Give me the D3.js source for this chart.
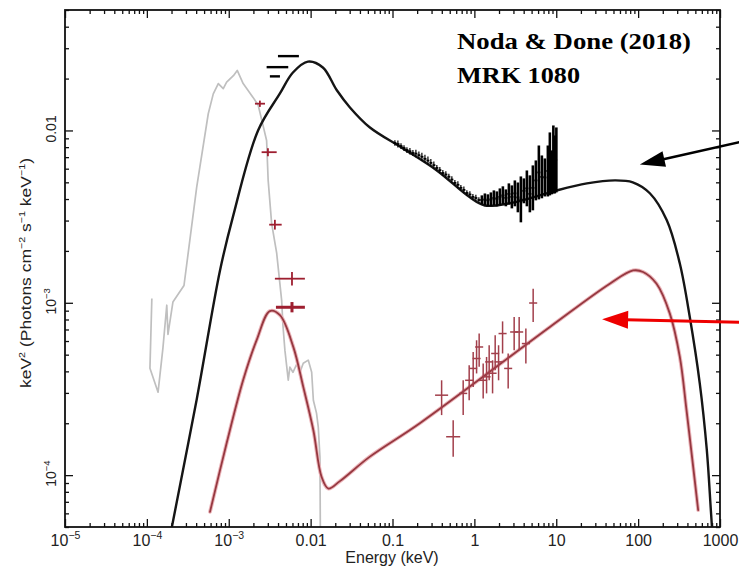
<!DOCTYPE html>
<html>
<head>
<meta charset="utf-8">
<script src="https://cdn.jsdelivr.net/npm/d3@7"></script>
<style>
  body { margin: 0; background: #fff; }
  svg { display: block; }
</style>
</head>
<body>
<svg id="chart" width="739" height="570"></svg>
<script>
// ---- axis ticks ----
const xTickValues = [1e-5, 1e-4, 1e-3, 0.01, 0.1, 1, 10, 100, 1000];
const xTickLabels = ["10^-5", "10^-4", "10^-3", "0.01", "0.1", "1", "10", "100", "1000"];
const yTickValues = [1e-4, 1e-3, 0.01];
const yTickLabels = ["10^-4", "10^-3", "0.01"];

// ---- total broadband model (keV, keV^2 photons cm^-2 s^-1 keV^-1) ----
const totalModelE = [1.82e-4, 2.02e-4, 4.06e-4, 7.82e-4, 1.12e-3, 2.28e-3, 4.22e-3, 6.08e-3, 9.27e-3,
  1.41e-2, 2.09e-2, 3.02e-2, 5.30e-2, 0.134, 0.348, 0.881, 1.34, 2.71, 4.76, 10.2, 23.7, 52.0, 86.1,
  139, 224, 323, 428, 566, 690, 773, 817];
const totalModelF = [3.8e-5, 5.0e-5, 2.75e-4, 1.54e-3, 3.13e-3, 1.0e-2, 1.64e-2, 2.17e-2, 2.51e-2,
  2.32e-2, 1.71e-2, 1.36e-2, 1.04e-2, 7.87e-3, 5.86e-3, 4.09e-3, 3.67e-3, 3.78e-3, 4.04e-3, 4.49e-3,
  4.93e-3, 5.13e-3, 5.0e-3, 4.32e-3, 3.01e-3, 1.69e-3, 8.24e-4, 3.41e-4, 1.40e-4, 6.27e-5, 4.20e-5];

// ---- second model (red) ----
const redModelE = [5.90e-4, 9.42e-4, 1.50e-3, 2.19e-3, 3.18e-3, 4.22e-3, 6.14e-3, 8.13e-3, 1.08e-2,
  1.36e-2, 1.649e-2, 2.28e-2, 5.30e-2, 0.216, 8.36, 45.1, 86.9, 115, 168, 244, 323, 390, 470, 541];
const redModelF = [6.12e-5, 1.53e-4, 3.56e-4, 6.07e-4, 8.95e-4, 8.47e-4, 5.55e-4, 3.25e-4, 1.82e-4,
  9.77e-5, 8.35e-5, 9.23e-5, 1.28e-4, 2.0e-4, 7.24e-4, 1.29e-3, 1.54e-3, 1.51e-3, 1.29e-3, 8.65e-4,
  4.85e-4, 2.38e-4, 1.12e-4, 6.27e-5];

// ---- optical / UV spectrum (grey) ----
const optE = [1.15e-4, 1.09e-4, 1.37e-4, 1.57e-4, 1.75e-4, 1.81e-4, 2.08e-4, 2.84e-4, 4.06e-4, 5.62e-4,
  6.47e-4, 7.45e-4, 8.57e-4, 9.42e-4, 1.14e-3, 1.27e-3, 1.50e-3, 1.99e-3, 2.29e-3, 2.54e-3, 2.90e-3,
  3.03e-3, 3.34e-3, 3.85e-3, 4.43e-3, 4.59e-3, 4.85e-3, 5.33e-3, 5.58e-3, 6.08e-3, 6.75e-3, 7.40e-3,
  8.13e-3, 9.35e-3, 1.03e-2, 1.08e-2, 1.18e-2, 1.24e-2, 1.30e-2, 1.32e-2];
const optF = [1.06e-3, 4.17e-4, 3.03e-4, 5.45e-4, 9.68e-4, 6.56e-4, 1.01e-3, 1.26e-3, 4.69e-3, 1.25e-2,
  1.63e-2, 1.87e-2, 1.75e-2, 1.91e-2, 2.08e-2, 2.23e-2, 1.87e-2, 1.55e-2, 1.40e-2, 1.14e-2, 8.75e-3,
  5.13e-3, 2.89e-3, 1.94e-3, 1.03e-3, 7.41e-4, 5.31e-4, 3.56e-4, 4.23e-4, 3.95e-4, 4.40e-4, 3.95e-4,
  4.46e-4, 4.65e-4, 3.95e-4, 2.72e-4, 2.29e-4, 1.90e-4, 1.27e-4, 3.21e-5];

// ---- UV photometry, red crosses ----
const uvE   = [2.40e-3, 3.01e-3, 3.66e-3, 5.92e-3, 5.92e-3];
const uvElo = [2.09e-3, 2.52e-3, 3.12e-3, 3.66e-3, 3.77e-3];
const uvEhi = [2.77e-3, 3.85e-3, 4.43e-3, 8.51e-3, 8.51e-3];
const uvF   = [1.43e-2, 7.48e-3, 2.84e-3, 1.38e-3, 9.42e-4];
const uvFlo = [1.37e-2, 7.09e-3, 2.66e-3, 1.26e-3, 8.80e-4];
const uvFhi = [1.49e-2, 7.89e-3, 3.03e-3, 1.51e-3, 1.01e-3];

// ---- UV photometry, black bars ----
const uvBarElo = [3.99e-3, 2.90e-3, 3.18e-3];
const uvBarEhi = [7.19e-3, 5.33e-3, 4.22e-3];
const uvBarF   = [2.70e-2, 2.33e-2, 2.06e-2];

// ---- X-ray spectrum, red crosses ----
const xrE   = [0.398, 0.551, 0.730, 0.864, 0.967, 1.064, 1.144, 1.281, 1.409, 1.516, 1.668, 1.795, 1.975, 2.210, 2.587, 3.062, 3.524, 4.255, 5.224];
const xrElo = [0.331, 0.452, 0.652, 0.771, 0.863, 0.950, 1.021, 1.144, 1.258, 1.354, 1.489, 1.603, 1.763, 1.973, 2.310, 2.734, 3.146, 3.799, 4.664];
const xrEhi = [0.478, 0.671, 0.818, 0.968, 1.083, 1.192, 1.281, 1.435, 1.578, 1.698, 1.868, 2.010, 2.212, 2.475, 2.897, 3.429, 3.947, 4.766, 5.851];
const xrF   = [2.91e-4, 1.67e-4, 2.98e-4, 3.55e-4, 4.16e-4, 4.75e-4, 5.54e-4, 3.55e-4, 3.72e-4, 4.54e-4, 3.90e-4, 5.08e-4, 4.54e-4, 6.63e-4, 4.16e-4, 6.77e-4, 6.77e-4, 5.80e-4, 9.97e-4];
const xrFlo = [2.23e-4, 1.28e-4, 2.23e-4, 2.72e-4, 3.25e-4, 3.89e-4, 4.25e-4, 2.78e-4, 2.98e-4, 3.55e-4, 2.98e-4, 4.06e-4, 3.55e-4, 5.08e-4, 3.18e-4, 5.30e-4, 5.30e-4, 4.44e-4, 7.74e-4];
const xrFhi = [3.55e-4, 2.08e-4, 3.55e-4, 4.34e-4, 5.19e-4, 6.06e-4, 6.63e-4, 4.44e-4, 4.85e-4, 5.67e-4, 4.64e-4, 6.48e-4, 5.67e-4, 7.80e-4, 5.08e-4, 8.27e-4, 8.27e-4, 7.09e-4, 1.208e-3];

// ---- X-ray spectrum, black binned data (centre energy, lower and upper flux) ----
const xsE = [0.107, 0.1164, 0.127, 0.1382, 0.150, 0.1632, 0.1775, 0.1931, 0.210, 0.2285, 0.249, 0.2709,
  0.294, 0.3199, 0.348, 0.3786, 0.412, 0.4483, 0.488, 0.5309, 0.578, 0.6289, 0.684, 0.7442, 0.810, 0.8813,
  0.959, 1.043, 1.135,
  1.235, 1.344, 1.462, 1.591, 1.731, 1.883, 2.049, 2.229, 2.425, 2.639, 2.871, 3.124, 3.399, 3.698,
  4.023, 4.377, 4.762, 5.181, 5.637, 6.133, 6.673, 7.260, 7.899, 8.355, 8.84, 9.22, 9.61, 10.03];
const xsLo = [8.14e-3, 7.97e-3, 7.81e-3, 7.61e-3, 7.41e-3, 7.26e-3, 7.12e-3, 6.98e-3, 6.84e-3, 6.66e-3, 6.49e-3, 6.32e-3,
  6.15e-3, 5.99e-3, 5.83e-3, 5.64e-3, 5.45e-3, 5.31e-3, 5.18e-3, 4.97e-3, 4.77e-3, 4.62e-3, 4.47e-3, 4.32e-3, 4.18e-3, 4.07e-3,
  3.96e-3, 3.88e-3, 3.80e-3,
  3.72e-3, 3.67e-3, 3.63e-3, 3.63e-3, 3.67e-3, 3.63e-3, 3.67e-3, 3.72e-3, 3.63e-3, 3.72e-3, 3.53e-3, 3.63e-3, 3.35e-3, 2.93e-3,
  3.78e-3, 3.63e-3, 3.35e-3, 3.44e-3, 3.93e-3, 3.98e-3, 4.04e-3, 4.14e-3, 4.14e-3, 4.20e-3, 4.26e-3, 4.31e-3, 4.31e-3, 4.37e-3];
const xsHi = [8.78e-3, 8.73e-3, 8.44e-3, 8.22e-3, 8.00e-3, 7.90e-3, 7.69e-3, 7.72e-3, 7.56e-3, 7.43e-3, 7.22e-3, 7.07e-3,
  6.83e-3, 6.61e-3, 6.30e-3, 6.14e-3, 5.89e-3, 5.80e-3, 5.60e-3, 5.42e-3, 5.16e-3, 5.07e-3, 4.83e-3, 4.73e-3, 4.50e-3, 4.44e-3,
  4.28e-3, 4.24e-3, 4.10e-3,
  4.20e-3, 4.31e-3, 4.26e-3, 4.37e-3, 4.49e-3, 4.43e-3, 4.61e-3, 4.74e-3, 4.55e-3, 4.93e-3, 4.80e-3, 5.13e-3, 4.99e-3, 5.41e-3,
  5.27e-3, 5.86e-3, 5.49e-3, 6.27e-3, 6.70e-3, 8.18e-3, 7.16e-3, 6.88e-3, 8.18e-3, 9.74e-3, 7.66e-3, 1.069e-2, 9.35e-3, 1.041e-2];

// ---- annotation arrows: [tail E, tail F, tip E, tip F] ----
const blackArrow = [2008, 8.69e-3, 105, 6.35e-3];
const redArrow   = [2008, 7.71e-4, 36.3, 8.02e-4];

// ---------------------------------------------------------------
const svg = d3.select("#chart");
const plot = { left: 65, right: 720, top: 10, bottom: 527 };
const sans = "'Liberation Sans', Arial, Helvetica, sans-serif";

const x = d3.scaleLog().domain([1e-5, 1e3]).range([plot.left, plot.right]);
const y = d3.scaleLog().domain([5e-5, 0.05]).range([plot.bottom, plot.top]);

svg.append("defs").append("clipPath").attr("id", "plotClip")
  .append("rect")
  .attr("x", plot.left).attr("y", plot.top)
  .attr("width", plot.right - plot.left).attr("height", plot.bottom - plot.top);

const zip = (a, b) => a.map((v, i) => [v, b[i]]);
const layer = svg.append("g").attr("clip-path", "url(#plotClip)");

// optical / UV spectrum
layer.append("path")
  .datum(zip(optE, optF))
  .attr("fill", "none").attr("stroke", "#bfbfbf").attr("stroke-width", 1.7)
  .attr("stroke-linejoin", "round")
  .attr("d", d3.line().x(d => x(d[0])).y(d => y(d[1])));

const smooth = d3.line().curve(d3.curveCatmullRom.alpha(0.5)).x(d => x(d[0])).y(d => y(d[1]));

// total model
layer.append("path")
  .datum(zip(totalModelE, totalModelF))
  .attr("fill", "none").attr("stroke", "#151515").attr("stroke-width", 2.4)
  .attr("d", smooth);

// red model: soft halo + core
const redPts = zip(redModelE, redModelF);
layer.append("path").datum(redPts)
  .attr("fill", "none").attr("stroke", "#ebb5ba").attr("stroke-width", 3.8)
  .attr("stroke-linecap", "round").attr("d", smooth);
layer.append("path").datum(redPts)
  .attr("fill", "none").attr("stroke", "#963840").attr("stroke-width", 1.8)
  .attr("stroke-linecap", "round").attr("d", smooth);

// red X-ray crosses
const xr = layer.append("g").attr("stroke", "#a23f4b").attr("stroke-width", 1.5);
xrE.forEach((e, i) => {
  xr.append("line").attr("x1", x(e)).attr("x2", x(e)).attr("y1", y(xrFlo[i])).attr("y2", y(xrFhi[i]));
  xr.append("line").attr("x1", x(xrElo[i])).attr("x2", x(xrEhi[i])).attr("y1", y(xrF[i])).attr("y2", y(xrF[i]));
});

// black X-ray binned spectrum
const xs = layer.append("g").attr("stroke", "#000");
xsE.forEach((e, i) => {
  const lo = i > 0 ? Math.sqrt(xsE[i - 1] * e) : e / Math.sqrt(xsE[1] / xsE[0]);
  const hi = i < xsE.length - 1 ? Math.sqrt(xsE[i + 1] * e) : e * Math.sqrt(e / xsE[i - 1]);
  const mid = Math.sqrt(xsLo[i] * xsHi[i]);
  xs.append("line").attr("stroke-width", e > 1.2 ? 2.6 : 1.2)
    .attr("x1", x(e)).attr("x2", x(e)).attr("y1", y(xsLo[i])).attr("y2", y(xsHi[i]));
  xs.append("line").attr("stroke-width", 1.8)
    .attr("x1", x(lo)).attr("x2", x(hi)).attr("y1", y(mid)).attr("y2", y(mid));
});

// UV photometry
const uv = layer.append("g").attr("stroke", "#9e1f30");
uvE.forEach((e, i) => {
  const w = i === 4 ? 3 : 1.8;
  uv.append("line").attr("stroke-width", w)
    .attr("x1", x(e)).attr("x2", x(e)).attr("y1", y(uvFlo[i])).attr("y2", y(uvFhi[i]));
  uv.append("line").attr("stroke-width", w)
    .attr("x1", x(uvElo[i])).attr("x2", x(uvEhi[i])).attr("y1", y(uvF[i])).attr("y2", y(uvF[i]));
});
const uvb = layer.append("g").attr("stroke", "#000").attr("stroke-width", 2.4);
uvBarF.forEach((f, i) => {
  uvb.append("line").attr("x1", x(uvBarElo[i])).attr("x2", x(uvBarEhi[i])).attr("y1", y(f)).attr("y2", y(f));
});

// ---- axes ----
const isMajor = (v, list) => list.some(m => Math.abs(m - v) / m < 1e-6);
const xMinor = x.ticks().filter(v => !isMajor(v, xTickValues));
const yMinor = y.ticks().filter(v => !isMajor(v, yTickValues));

function styleAxis(g, size) {
  g.select(".domain").remove();
  g.selectAll(".tick line").attr("stroke", "#111").attr("stroke-width", 1.3);
  g.selectAll("text").attr("font-family", sans).attr("font-size", size || 15).attr("fill", "#222");
}
function writeLabel(sel, label, supDy, supSize) {
  sel.text(null);
  const parts = label.split("^");
  sel.append("tspan").text(parts[0]);
  if (parts.length > 1) {
    sel.append("tspan").attr("dy", supDy).attr("font-size", supSize).text(parts[1].replace("-", "\u2212"));
  }
}

const gBottom = svg.append("g").attr("transform", `translate(0,${plot.bottom})`)
  .call(d3.axisBottom(x).tickValues(xTickValues).tickSize(-8).tickPadding(8)
    .tickFormat((d, i) => xTickLabels[i]))
  .call(g => styleAxis(g, 16));
gBottom.selectAll(".tick text").each(function (d, i) {
  writeLabel(d3.select(this), xTickLabels[i], -7, 10.5);
});
svg.append("g").attr("transform", `translate(0,${plot.bottom})`)
  .call(d3.axisBottom(x).tickValues(xMinor).tickSize(-4).tickFormat(""))
  .call(styleAxis);
svg.append("g").attr("transform", `translate(0,${plot.top})`)
  .call(d3.axisTop(x).tickValues(xTickValues).tickSize(-8).tickFormat(""))
  .call(styleAxis);
svg.append("g").attr("transform", `translate(0,${plot.top})`)
  .call(d3.axisTop(x).tickValues(xMinor).tickSize(-4).tickFormat(""))
  .call(styleAxis);

const gLeft = svg.append("g").attr("transform", `translate(${plot.left},0)`)
  .call(d3.axisLeft(y).tickValues(yTickValues).tickSize(-8).tickFormat((d, i) => yTickLabels[i]))
  .call(g => styleAxis(g, 14));
gLeft.selectAll(".tick text").each(function (d, i) {
  const t = d3.select(this)
    .attr("x", 0).attr("y", 0).attr("dy", 0)
    .attr("text-anchor", "middle")
    .attr("transform", "translate(-9,-2) rotate(-90)");
  writeLabel(t, yTickLabels[i], -6, 9.5);
});
svg.append("g").attr("transform", `translate(${plot.left},0)`)
  .call(d3.axisLeft(y).tickValues(yMinor).tickSize(-4).tickFormat(""))
  .call(styleAxis);
svg.append("g").attr("transform", `translate(${plot.right},0)`)
  .call(d3.axisRight(y).tickValues(yTickValues).tickSize(-8).tickFormat(""))
  .call(styleAxis);
svg.append("g").attr("transform", `translate(${plot.right},0)`)
  .call(d3.axisRight(y).tickValues(yMinor).tickSize(-4).tickFormat(""))
  .call(styleAxis);

// frame
svg.append("rect")
  .attr("x", plot.left).attr("y", plot.top)
  .attr("width", plot.right - plot.left).attr("height", plot.bottom - plot.top)
  .attr("fill", "none").attr("stroke", "#111").attr("stroke-width", 1.8);

// axis titles
svg.append("text")
  .attr("x", (plot.left + plot.right) / 2 - 0.5).attr("y", 563)
  .attr("text-anchor", "middle")
  .attr("font-family", sans).attr("font-size", 16).attr("fill", "#222")
  .text("Energy (keV)");

const yTitle = svg.append("text")
  .attr("transform", "translate(31,273) rotate(-90)")
  .attr("text-anchor", "middle")
  .attr("textLength", 230).attr("lengthAdjust", "spacingAndGlyphs")
  .attr("font-family", sans).attr("font-size", 15.5).attr("fill", "#222");
yTitle.append("tspan").text("keV");
yTitle.append("tspan").attr("dy", -6).attr("font-size", 9.5).text("2");
yTitle.append("tspan").attr("dy", 6).text(" (Photons cm");
yTitle.append("tspan").attr("dy", -6).attr("font-size", 9.5).text("\u22122");
yTitle.append("tspan").attr("dy", 6).text(" s");
yTitle.append("tspan").attr("dy", -6).attr("font-size", 9.5).text("\u22121");
yTitle.append("tspan").attr("dy", 6).text(" keV");
yTitle.append("tspan").attr("dy", -6).attr("font-size", 9.5).text("\u22121");
yTitle.append("tspan").attr("dy", 6).text(")");

// ---- annotation ----
const serif = "'Liberation Serif', 'Times New Roman', Times, serif";
svg.append("text").attr("x", 457).attr("y", 49)
  .attr("font-family", serif).attr("font-weight", "bold").attr("font-size", 24)
  .attr("textLength", 234).attr("lengthAdjust", "spacingAndGlyphs")
  .text("Noda & Done (2018)");
svg.append("text").attr("x", 457).attr("y", 83)
  .attr("font-family", serif).attr("font-weight", "bold").attr("font-size", 24)
  .attr("textLength", 123).attr("lengthAdjust", "spacingAndGlyphs")
  .text("MRK 1080");

function arrow(spec, color, width, headLen, headHalf) {
  const x0 = x(spec[0]), y0 = y(spec[1]), x1 = x(spec[2]), y1 = y(spec[3]);
  const dx = x1 - x0, dy = y1 - y0, len = Math.hypot(dx, dy);
  const ux = dx / len, uy = dy / len;
  const bx = x1 - ux * headLen, by = y1 - uy * headLen;
  svg.append("line").attr("x1", x0).attr("y1", y0).attr("x2", bx + ux * 2).attr("y2", by + uy * 2)
    .attr("stroke", color).attr("stroke-width", width);
  svg.append("path")
    .attr("d", `M${x1},${y1}L${bx - uy * headHalf},${by + ux * headHalf}L${bx + uy * headHalf},${by - ux * headHalf}Z`)
    .attr("fill", color);
}
arrow(blackArrow, "#000", 2.6, 25, 8);
arrow(redArrow, "#ee0000", 3, 26, 9);
</script>
</body>
</html>
